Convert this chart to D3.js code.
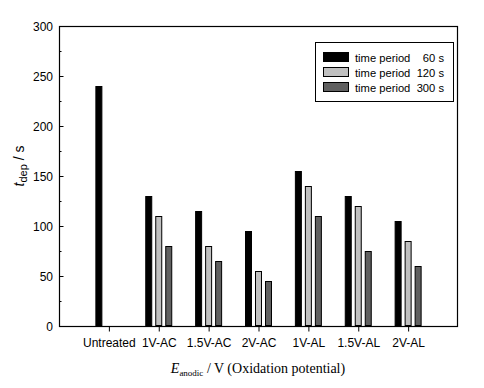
<!DOCTYPE html>
<html><head><meta charset="utf-8">
<script src="https://cdn.jsdelivr.net/npm/d3@7"></script>
<style>body{margin:0;background:#fff}svg{display:block}</style>
</head><body>
<script>
const categories = ["Untreated","1V-AC","1.5V-AC","2V-AC","1V-AL","1.5V-AL","2V-AL"];
const series = ["60 s","120 s","300 s"];
const values60 = [240,130,115,95,155,130,105];
const values120 = [null,110,80,55,140,120,85];
const values300 = [null,80,65,45,110,75,60];
const yTicks = [0,50,100,150,200,250,300];
const colors = ["#000000","#c0c0c0","#606060"];

const W=484,H=388;
const svg=d3.select("body").append("svg").attr("width",W).attr("height",H);
const L=59,R=457,T=26,B=326;
const x=d3.scaleLinear().domain([0,8]).range([L,R+1]);
const y=d3.scaleLinear().domain([0,300]).range([B,T]);
const all=[values60,values120,values300];
const off=[-10,0,10], bw=7;

// bars
all.forEach((vals,si)=>{
  svg.append("g").selectAll("rect").data(vals.map((v,i)=>({v,i})).filter(d=>d.v!=null))
    .join("rect")
    .attr("x",d=>x(d.i+1)+off[si]-bw/2+0.5)
    .attr("y",d=>y(d.v)+0.5)
    .attr("width",bw-1)
    .attr("height",d=>y(0)-y(d.v)-1)
    .attr("fill",colors[si]).attr("stroke","#000").attr("stroke-width",1);
});

// frame
svg.append("rect").attr("x",L+0.5).attr("y",T+0.5).attr("width",R-L).attr("height",B-T)
  .attr("fill","none").attr("stroke","#000").attr("stroke-width",1.2);

// y axis (ticks inward)
const ya=svg.append("g").attr("transform",`translate(${L+0.5},0)`)
  .call(d3.axisRight(y).tickValues(yTicks).tickSize(4).tickFormat(""));
ya.select(".domain").remove();
const ym=svg.append("g").attr("transform",`translate(${L+0.5},0)`)
  .call(d3.axisRight(y).tickValues(d3.range(25,300,50)).tickSize(2).tickFormat(""));
ym.select(".domain").remove();
svg.append("g").selectAll("text").data(yTicks).join("text")
  .attr("x",L-6).attr("y",d=>y(d)+4.5).attr("text-anchor","end")
  .attr("font-family","Liberation Sans, Arial, sans-serif").attr("font-size",12).text(d=>d);

// x axis (ticks outward)
const xa=svg.append("g").attr("transform",`translate(0,${B+0.5})`)
  .call(d3.axisBottom(x).tickValues(d3.range(1,8)).tickSize(5).tickFormat(""));
xa.select(".domain").remove();
svg.append("g").selectAll("text").data(categories).join("text")
  .attr("x",(d,i)=>x(i+1)+0.5).attr("y",B+21).attr("text-anchor","middle")
  .attr("font-family","Liberation Sans, Arial, sans-serif").attr("font-size",12).text(d=>d);

// x title
const xt=svg.append("text").attr("x",258).attr("y",373).attr("text-anchor","middle")
  .attr("font-family","Liberation Serif, Times New Roman, serif").attr("font-size",14);
xt.append("tspan").attr("font-style","italic").text("E");
xt.append("tspan").attr("font-size",9).attr("dy",3).text("anodic");
xt.append("tspan").attr("dy",-3).text(" / V (Oxidation potential)");

// y title
const yt=svg.append("text").attr("transform","translate(24,166) rotate(-90)").attr("text-anchor","middle")
  .attr("font-family","Liberation Sans, Arial, sans-serif").attr("font-size",14);
yt.append("tspan").attr("font-style","italic").text("t");
yt.append("tspan").attr("font-size",11).attr("dy",3).text("dep");
yt.append("tspan").attr("dy",-3).text(" / s");

// legend
const lg=svg.append("g");
lg.append("rect").attr("x",315.5).attr("y",42.5).attr("width",138).attr("height",59)
  .attr("fill","#fff").attr("stroke","#000").attr("stroke-width",1);
series.forEach((s,i)=>{
  const cy=57+i*15;
  lg.append("rect").attr("x",323.5).attr("y",cy-4.5).attr("width",25).attr("height",9)
    .attr("fill",colors[i]).attr("stroke","#000");
  lg.append("text").attr("x",355).attr("y",cy+4.5).attr("font-family","Liberation Sans, Arial, sans-serif")
    .attr("font-size",11.2).text("time period");
  lg.append("text").attr("x",444).attr("y",cy+4.5).attr("text-anchor","end").attr("font-family","Liberation Sans, Arial, sans-serif")
    .attr("font-size",11.2).text(s);
});
</script>
</body></html>
